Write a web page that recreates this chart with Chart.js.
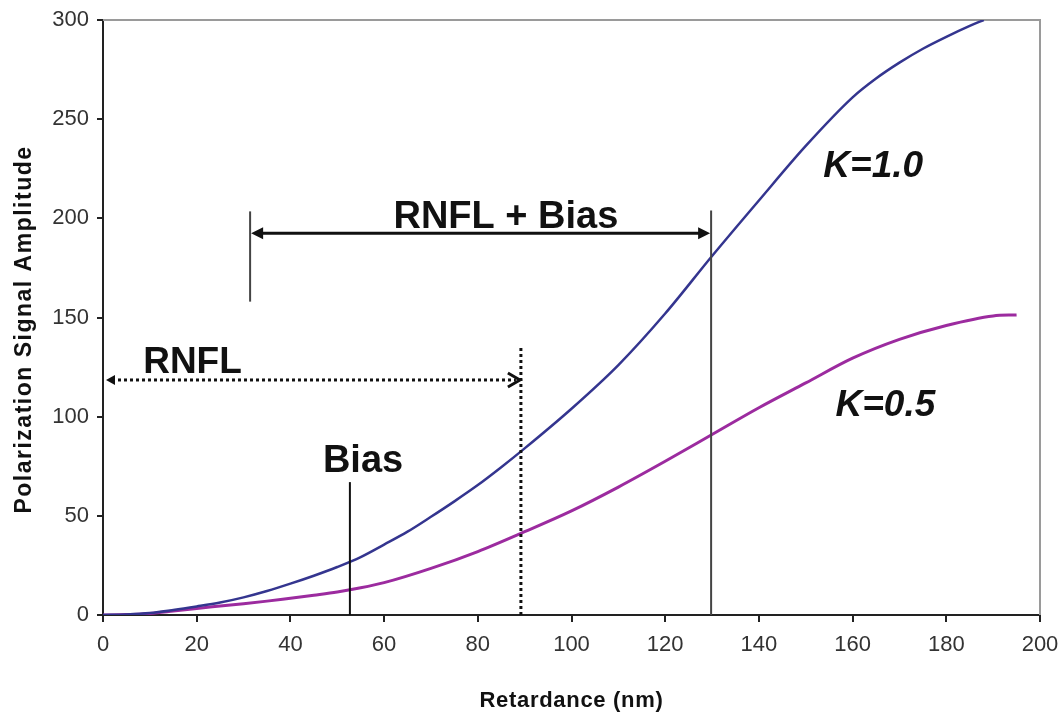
<!DOCTYPE html>
<html>
<head>
<meta charset="utf-8">
<script src="https://cdn.jsdelivr.net/npm/chart.js@4/dist/chart.umd.min.js"></script>
<style>
  html, body { margin: 0; padding: 0; background: #fff; }
  #wrap { width: 1063px; height: 716px; position: relative; }
</style>
</head>
<body>
<div id="wrap"><canvas id="c" width="1063" height="716"></canvas></div>
<script>
// ---- data ----
const xTickValues = [0, 20, 40, 60, 80, 100, 120, 140, 160, 180, 200];
const yTickValues = [0, 50, 100, 150, 200, 250, 300];

const k10Retardance = [0, 5, 10, 15, 20, 25, 30, 35, 40, 45, 50, 55, 60, 65, 70, 75, 80, 85, 90, 100, 110, 120, 130, 140, 150, 160, 165, 170, 175, 180, 185, 188];
const k10Amplitude  = [0, 0.3, 1, 2.5, 4.3, 6.3, 8.9, 12.1, 15.8, 19.8, 24.2, 29.2, 35.5, 42, 49.5, 57.3, 65.5, 74.5, 84, 104, 126, 152, 181, 209, 236.5, 261, 270.5, 278.5, 285.5, 291.5, 297, 300];

const k05Retardance = [0, 5, 10, 15, 20, 25, 30, 35, 40, 45, 50, 55, 60, 70, 80, 90, 100, 110, 120, 130, 140, 150, 160, 170, 180, 190, 195];
const k05Amplitude  = [0, 0.2, 0.8, 2, 3.3, 4.5, 5.7, 7, 8.5, 10, 11.6, 13.7, 16.3, 23.5, 32, 42, 52.5, 64.5, 77.5, 91, 104.5, 117, 129.5, 139, 146, 150.8, 151.3];

const seriesLabels = ['K=1.0', 'K=0.5'];

// annotation values (data coordinates)
const biasLine      = { x: 52.7, yFrom: 0, yTo: 67 };
const rnflLine      = { x: 89.2, yFrom: 0, yTo: 135 };
const rnflArrow     = { xFrom: 0, xTo: 89.2, y: 118.5 };
const rnflBiasLeft  = { x: 31.4, yFrom: 158, yTo: 203.5 };
const rnflBiasRight = { x: 129.8, yFrom: 0, yTo: 204 };
const rnflBiasArrow = { xFrom: 31.4, xTo: 129.8, y: 192.5 };
const textLabels = [
  { text: 'RNFL + Bias', x: 86,    y: 195,   italic: false, size: 38 },
  { text: 'RNFL',        x: 19.1,  y: 122,   italic: false, size: 37 },
  { text: 'Bias',        x: 55.5,  y: 72,    italic: false, size: 38 },
  { text: 'K=1.0',       x: 164.4, y: 221,   italic: true,  size: 37 },
  { text: 'K=0.5',       x: 167,   y: 100.5, italic: true,  size: 37 }
];

function toPoints(xs, ys) { return xs.map((x, i) => ({ x: x, y: ys[i] })); }

const FONT = '"Liberation Sans", Arial, sans-serif';

// axis-title letter spacing / offset tweaks
const titleStyle = { x: { spacing: '0.7px', dx: 0, dy: 0 }, y: { spacing: '1.5px', dx: 0, dy: 12 } };

const titleSpacingPlugin = {
  id: 'titleSpacing',
  beforeDraw(chart) {
    Object.keys(titleStyle).forEach(id => {
      const s = chart.scales[id];
      const st = titleStyle[id];
      if (s && !s._spacedTitle) {
        const orig = s.drawTitle.bind(s);
        s.drawTitle = function () {
          const ctx = chart.ctx;
          ctx.save();
          ctx.letterSpacing = st.spacing;
          ctx.translate(st.dx, st.dy);
          orig();
          ctx.restore();
          ctx.letterSpacing = '0px';
        };
        s._spacedTitle = true;
      }
    });
  }
};

const annotationPlugin = {
  id: 'annotations',
  beforeDatasetsDraw(chart) {
    const ctx = chart.ctx, a = chart.chartArea;
    ctx.save();
    ctx.strokeStyle = '#9a9a9a';
    ctx.lineWidth = 2;
    ctx.beginPath();
    ctx.moveTo(a.left, a.top);
    ctx.lineTo(a.right, a.top);
    ctx.lineTo(a.right, a.bottom);
    ctx.stroke();
    ctx.restore();
  },
  afterDatasetsDraw(chart) {
    const ctx = chart.ctx;
    const X = v => chart.scales.x.getPixelForValue(v);
    const Y = v => chart.scales.y.getPixelForValue(v);
    ctx.save();

    function vline(o, color, w, dash) {
      ctx.beginPath();
      ctx.setLineDash(dash || []);
      ctx.strokeStyle = color;
      ctx.lineWidth = w;
      ctx.moveTo(X(o.x), Y(o.yFrom));
      ctx.lineTo(X(o.x), Y(o.yTo));
      ctx.stroke();
      ctx.setLineDash([]);
    }
    function filledHead(tipX, y, dir, len, half) {
      ctx.beginPath();
      ctx.fillStyle = '#111';
      ctx.moveTo(tipX, y);
      ctx.lineTo(tipX - dir * len, y - half);
      ctx.lineTo(tipX - dir * len, y + half);
      ctx.closePath();
      ctx.fill();
    }

    vline(biasLine, '#111', 2);
    vline(rnflBiasLeft, '#444', 2);
    vline(rnflBiasRight, '#444', 2);
    vline(rnflLine, '#111', 3, [3, 3]);

    // RNFL + Bias solid double arrow
    const ay = Y(rnflBiasArrow.y);
    const ax1 = X(rnflBiasArrow.xFrom) + 1, ax2 = X(rnflBiasArrow.xTo) - 1;
    ctx.beginPath();
    ctx.strokeStyle = '#111';
    ctx.lineWidth = 3;
    ctx.moveTo(ax1 + 8, ay);
    ctx.lineTo(ax2 - 8, ay);
    ctx.stroke();
    filledHead(ax1, ay, -1, 12, 6);
    filledHead(ax2, ay, 1, 12, 6);

    // RNFL dotted arrow
    const ry = Y(rnflArrow.y);
    const rx1 = X(rnflArrow.xFrom) + 3, rx2 = X(rnflArrow.xTo) - 1;
    ctx.beginPath();
    ctx.setLineDash([3, 3]);
    ctx.lineWidth = 3;
    ctx.moveTo(rx1 + 6, ry);
    ctx.lineTo(rx2 - 4, ry);
    ctx.stroke();
    ctx.setLineDash([]);
    filledHead(rx1, ry, -1, 9, 5);
    ctx.beginPath();
    ctx.lineWidth = 3;
    ctx.moveTo(rx2 - 12, ry - 7);
    ctx.lineTo(rx2, ry);
    ctx.lineTo(rx2 - 12, ry + 7);
    ctx.stroke();

    // text labels
    ctx.fillStyle = '#111';
    ctx.textAlign = 'center';
    ctx.textBaseline = 'alphabetic';
    textLabels.forEach(t => {
      ctx.font = (t.italic ? 'italic ' : '') + 'bold ' + t.size + 'px ' + FONT;
      ctx.fillText(t.text, X(t.x), Y(t.y));
    });
    ctx.restore();
  }
};

new Chart(document.getElementById('c'), {
  type: 'line',
  data: {
    datasets: [
      {
        label: seriesLabels[0],
        data: toPoints(k10Retardance, k10Amplitude),
        borderColor: '#34358f',
        borderWidth: 2.5,
        pointRadius: 0,
        cubicInterpolationMode: 'monotone',
        fill: false
      },
      {
        label: seriesLabels[1],
        data: toPoints(k05Retardance, k05Amplitude),
        borderColor: '#9c2b9f',
        borderWidth: 3,
        pointRadius: 0,
        cubicInterpolationMode: 'monotone',
        fill: false
      }
    ]
  },
  options: {
    responsive: false,
    animation: false,
    events: [],
    layout: { padding: { left: 0, top: 20, right: 23, bottom: 0 } },
    plugins: { legend: { display: false }, tooltip: { enabled: false } },
    scales: {
      x: {
        type: 'linear',
        min: 0, max: 200,
        afterBuildTicks: s => { s.ticks = xTickValues.map(v => ({ value: v })); },
        afterFit: s => { s.height = 101; s.paddingRight = 0; s.paddingLeft = 0; },
        border: { color: '#222', width: 2 },
        grid: { drawOnChartArea: false, drawTicks: true, tickLength: 7, color: '#222', lineWidth: 2 },
        ticks: { color: '#333', padding: 10, font: { family: FONT, size: 22 }, maxRotation: 0 },
        title: { display: true, text: 'Retardance (nm)', color: '#111', padding: { top: 0, bottom: 2 },
                 font: { family: FONT, size: 22, weight: 'bold' } }
      },
      y: {
        type: 'linear',
        min: 0, max: 300,
        afterBuildTicks: s => { s.ticks = yTickValues.map(v => ({ value: v })); },
        afterFit: s => { s.width = 103; s.paddingTop = 0; s.paddingBottom = 0; },
        border: { color: '#222', width: 2 },
        grid: { drawOnChartArea: false, drawTicks: true, tickLength: 6, color: '#222', lineWidth: 2 },
        ticks: { color: '#333', padding: 8, font: { family: FONT, size: 22 } },
        title: { display: true, text: 'Polarization Signal Amplitude', color: '#111', padding: { top: 11, bottom: 0 },
                 font: { family: FONT, size: 23, weight: 'bold' } }
      }
    }
  },
  plugins: [titleSpacingPlugin, annotationPlugin]
});
</script>
</body>
</html>
